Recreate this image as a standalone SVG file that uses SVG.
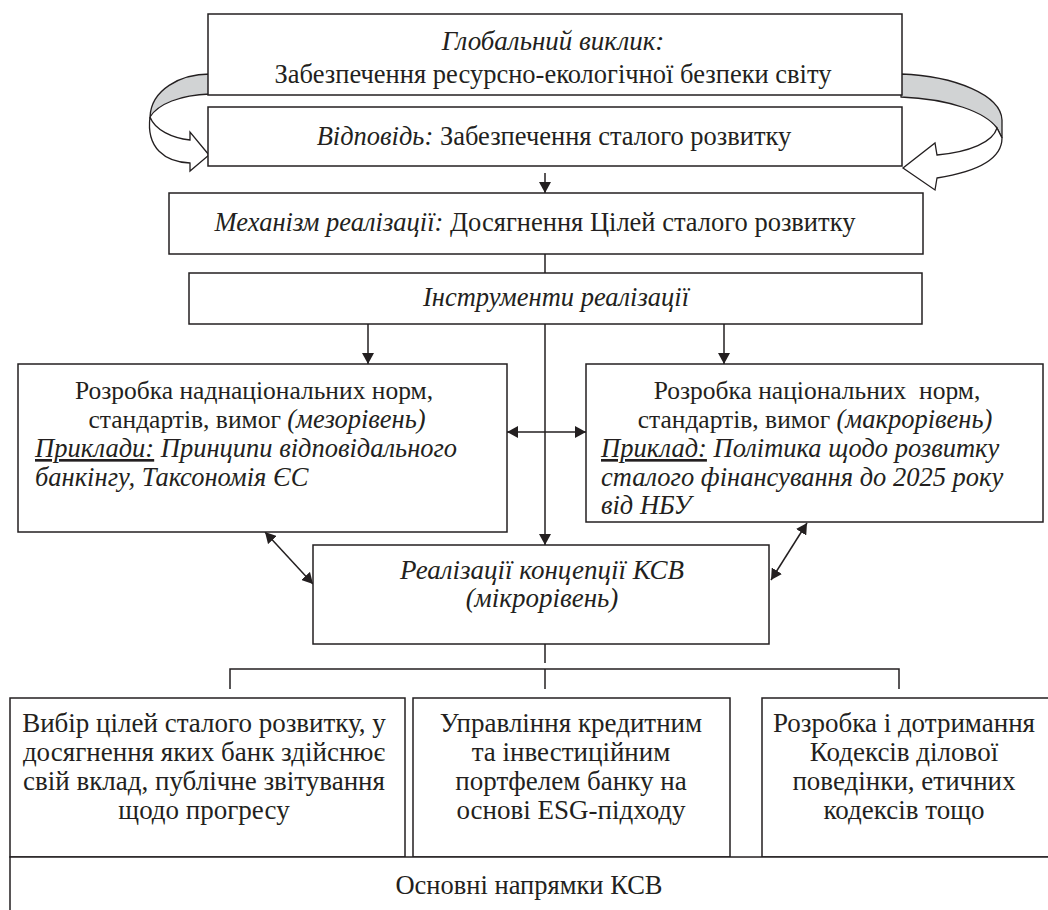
<svg xmlns="http://www.w3.org/2000/svg" width="1048" height="910" viewBox="0 0 1048 910">
<style>
.box{fill:#fff;stroke:#231f20;stroke-width:1.5}
.t{font-family:"Liberation Serif","Times New Roman",serif;font-size:26.5px;fill:#231f20}
.s{font-size:25.5px}
.si{font-size:26.5px;font-style:italic}
.b{font-size:27px}
.c{text-anchor:middle}
.i{font-style:italic}
.u{text-decoration:underline}
.ln{stroke:#231f20;stroke-width:1.5;fill:none}
.back{fill:#d1d3d4;stroke:#231f20;stroke-width:1.3}
.front{fill:#fff;stroke:#231f20;stroke-width:1.3}
</style>
<defs>
<marker id="ah" viewBox="0 0 11 12" refX="11" refY="6" markerWidth="11" markerHeight="12" markerUnits="userSpaceOnUse" orient="auto-start-reverse">
<path d="M0,0 L11,6 L0,12 Z" fill="#231f20"/>
</marker>
</defs>
<rect width="1048" height="910" fill="#fff"/>

<g id="curved-arrows">
<path class="back" d="M210,74 C180,74 151,90 150,117 C158,104 180,95 210,94 Z"/>
<path class="front" d="M150,117 C155,130 172,138 190,140 L190,132 L209,155 L190,171 L190,163 C165,162 146,148 150,117 Z"/>
<path class="back" d="M901,74 C955,76 1001,95 1002,120 L1002,138 L997,128 C985,112 950,99 901,97 Z"/>
<path class="front" d="M997,128 C993,142 970,152 937,155 L935,143 L903,168 L935,190 L937,178 C975,172 1002,160 1002,138 Z"/>
</g>

<g id="connectors">
<path class="ln" d="M545,173 V193" marker-end="url(#ah)"/>
<path class="ln" d="M545,254 V273"/>
<path class="ln" d="M368,324 V364" marker-end="url(#ah)"/>
<path class="ln" d="M724,324 V364" marker-end="url(#ah)"/>
<path class="ln" d="M545,324 V545" marker-end="url(#ah)"/>
<path class="ln" d="M507,432 H586" marker-start="url(#ah)" marker-end="url(#ah)"/>
<path class="ln" d="M265,532 L313,584" marker-start="url(#ah)" marker-end="url(#ah)"/>
<path class="ln" d="M807,523 L771,580" marker-start="url(#ah)" marker-end="url(#ah)"/>
<path class="ln" d="M545,644 V663"/>
<path class="ln" d="M230,689 V669 H899 V689"/>
<path class="ln" d="M545,669 V689"/>
</g>

<g id="global-challenge">
<rect class="box" x="208" y="14" width="694" height="81"/>
<text class="t c i" x="553" y="50" style="font-size:27px">Глобальний виклик:</text>
<text class="t c" x="553" y="83">Забезпечення ресурсно-екологічної безпеки світу</text>
</g>

<g id="response">
<rect class="box" x="208" y="107" width="694" height="59"/>
<text class="t c" x="554" y="145"><tspan class="i">Відповідь:</tspan> Забезпечення сталого розвитку</text>
</g>

<g id="mechanism">
<rect class="box" x="169" y="193" width="754" height="61"/>
<text class="t c" x="535" y="231"><tspan class="i">Механізм реалізації:</tspan> Досягнення Цілей сталого розвитку</text>
</g>

<g id="instruments">
<rect class="box" x="189" y="273" width="733" height="51"/>
<text class="t c i" x="556" y="306">Інструменти реалізації</text>
</g>

<g id="supranational">
<rect class="box" x="18" y="364" width="489" height="168"/>
<text class="t s c" x="254" y="399">Розробка наднаціональних норм,</text>
<text class="t s c" x="257" y="428">стандартів, вимог <tspan class="si">(мезорівень)</tspan></text>
<text class="t si" x="35" y="457"><tspan class="u">Приклади:</tspan> Принципи відповідального</text>
<text class="t si" x="35" y="486">банкінгу, Таксономія ЄС</text>
</g>

<g id="national">
<rect class="box" x="586" y="364" width="457" height="158"/>
<text class="t s c" x="817" y="399" xml:space="preserve">Розробка національних  норм,</text>
<text class="t s c" x="815" y="428">стандартів, вимог <tspan class="si">(макрорівень)</tspan></text>
<text class="t si" x="601" y="457"><tspan class="u">Приклад:</tspan> Політика щодо розвитку</text>
<text class="t si" x="601" y="486">сталого фінансування до 2025 року</text>
<text class="t si" x="601" y="514">від НБУ</text>
</g>

<g id="csr">
<rect class="box" x="313" y="545" width="456" height="99"/>
<text class="t b c i" x="542" y="579">Реалізації концепції КСВ</text>
<text class="t b c i" x="542" y="607">(мікрорівень)</text>
</g>

<g id="dir1">
<rect class="box" x="10" y="698" width="395" height="159"/>
<text class="t b c" x="204" y="732">Вибір цілей сталого розвитку, у</text>
<text class="t b c" x="204" y="761">досягнення яких банк здійснює</text>
<text class="t b c" x="204" y="790">свій вклад, публічне звітування</text>
<text class="t b c" x="204" y="819">щодо прогресу</text>
</g>

<g id="dir2">
<rect class="box" x="413" y="698" width="317" height="159"/>
<text class="t b c" x="571" y="732">Управління кредитним</text>
<text class="t b c" x="571" y="761">та інвестиційним</text>
<text class="t b c" x="571" y="790">портфелем банку на</text>
<text class="t b c" x="571" y="819">основі ESG-підходу</text>
</g>

<g id="dir3">
<rect class="box" x="762" y="698" width="292" height="159"/>
<text class="t b c" x="904" y="732">Розробка і дотримання</text>
<text class="t b c" x="904" y="761">Кодексів ділової</text>
<text class="t b c" x="904" y="790">поведінки, етичних</text>
<text class="t b c" x="904" y="819">кодексів тощо</text>
</g>

<g id="main-directions">
<rect class="box" x="10" y="857" width="1044" height="60"/>
<text class="t c" x="529" y="894">Основні напрямки КСВ</text>
</g>
</svg>
